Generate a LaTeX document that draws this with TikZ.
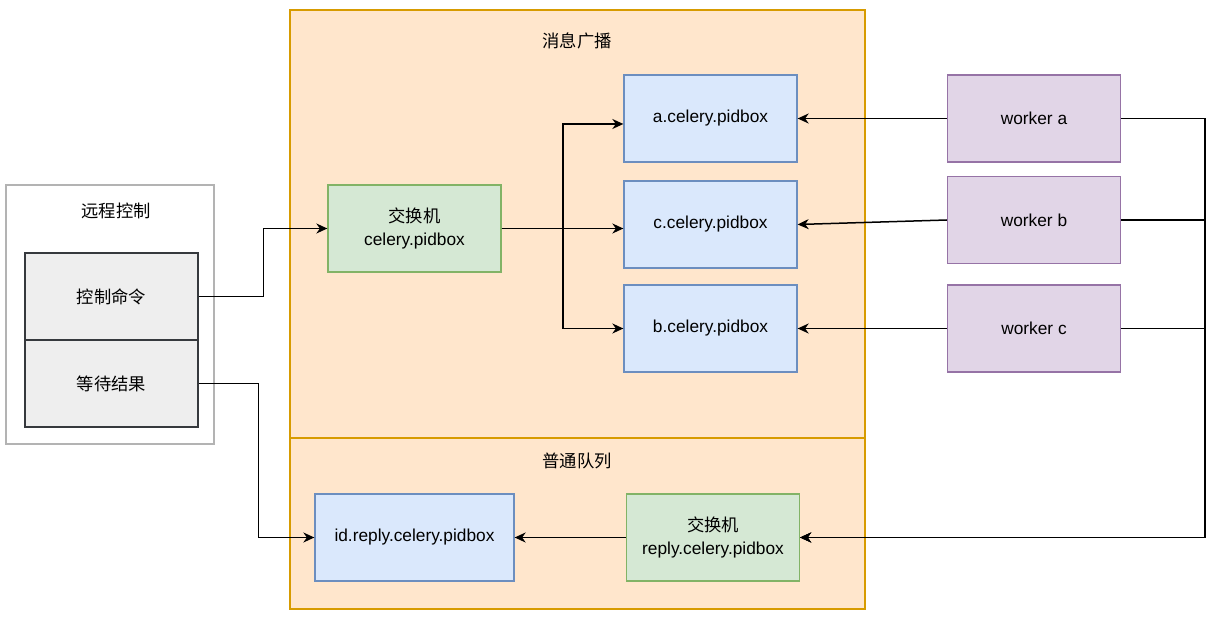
\documentclass[tikz,border=0pt]{standalone}
\usepackage{fontspec}
\setmainfont{Liberation Sans}
\newfontfamily\cjk{Noto Sans CJK SC}
\usetikzlibrary{arrows.meta,calc}
\definecolor{orfill}{HTML}{FFE6CC}
\definecolor{ordraw}{HTML}{D79B00}
\definecolor{blfill}{HTML}{DAE8FC}
\definecolor{bldraw}{HTML}{6C8EBF}
\definecolor{grfill}{HTML}{D5E8D4}
\definecolor{grdraw}{HTML}{82B366}
\definecolor{pufill}{HTML}{E1D5E7}
\definecolor{pudraw}{HTML}{9673A6}
\definecolor{gyfill}{HTML}{EEEEEE}
\definecolor{gydraw}{HTML}{36393D}
\definecolor{outdraw}{HTML}{B3B3B3}
\tikzset{
  every node/.style={font=\fontsize{17.3}{23.5}\selectfont, align=center, inner sep=0pt},
  box/.style={draw, line width=1.3pt, minimum width=173pt, minimum height=87pt},
  bluebox/.style={box, fill=blfill, draw=bldraw},
  greenbox/.style={box, fill=grfill, draw=grdraw},
  purplebox/.style={box, fill=pufill, draw=pudraw},
  graybox/.style={box, fill=gyfill, draw=gydraw},
  container/.style={draw=ordraw, fill=orfill, line width=1.3pt},
  conn/.style={line width=1.5pt, -{Stealth[length=11pt,width=10pt,inset=3.5pt]}},
}
\begin{document}
\begin{tikzpicture}[x=1pt,y=-1pt]
\useasboundingbox (0,0) rectangle (1218,620);
% containers
\node[container, minimum width=575pt, minimum height=428pt] (bc) at (577.5,224) {};
\node[container, minimum width=575pt, minimum height=171pt] (nq) at (577.5,523.5) {};
\node (bct) at (577,41) {\cjk 消息广播};
\node (nqt) at (577,461) {\cjk 普通队列};
% remote control
\node[draw=outdraw, fill=white, line width=1.3pt, minimum width=208pt, minimum height=259pt] (rc) at (110,314.5) {};
\node (rct) at (116,211) {\cjk 远程控制};
\node[graybox] (cmd) at (111.5,296.5) {\cjk 控制命令};
\node[graybox] (wait) at (111.5,383.5) {\cjk 等待结果};
% exchange
\node[greenbox] (ex) at (414.5,228.5) {{\cjk 交换机}\\celery.pidbox};
% pidboxes
\node[bluebox] (a) at (710.5,118.5) {a.celery.pidbox};
\node[bluebox] (c) at (710.5,224.5) {c.celery.pidbox};
\node[bluebox] (b) at (710.5,328.5) {b.celery.pidbox};
% workers
\node[purplebox] (wa) at (1034,118.5) {worker a};
\node[purplebox] (wb) at (1034,220) {worker b};
\node[purplebox] (wc) at (1034,328.5) {worker c};
% reply
\node[bluebox, minimum width=199pt] (idr) at (414.5,537.5) {id.reply.celery.pidbox};
\node[greenbox] (rex) at (713,537.5) {{\cjk 交换机}\\reply.celery.pidbox};
\coordinate (bus) at (1205,0);
\coordinate (fork) at (563,0);
% connectors
\draw[conn] (cmd.east) -- ++(65,0) |- (ex.west);
\draw[conn] (wait.east) -- ++(60,0) |- (idr.west);
\draw[conn] (ex.east) -- (ex.east -| fork) |- ($(a.west)+(0,5.5)$);
\draw[conn] (ex.east) -- (c.west |- ex.east);
\draw[conn] (ex.east -| fork) |- (b.west);
\draw[conn] (wa.west) -- (a.east);
\draw[conn] (wb.west) -- (c.east);
\draw[conn] (wc.west) -- (b.east);
\draw[conn] (rex.west) -- (idr.east);
\draw[conn] (wa.east) -- (wa.east -| bus) |- (rex.east);
\draw[conn] (wb.east) -- (wb.east -| bus) |- (rex.east);
\draw[conn] (wc.east) -- (wc.east -| bus) |- (rex.east);
\end{tikzpicture}
\end{document}
